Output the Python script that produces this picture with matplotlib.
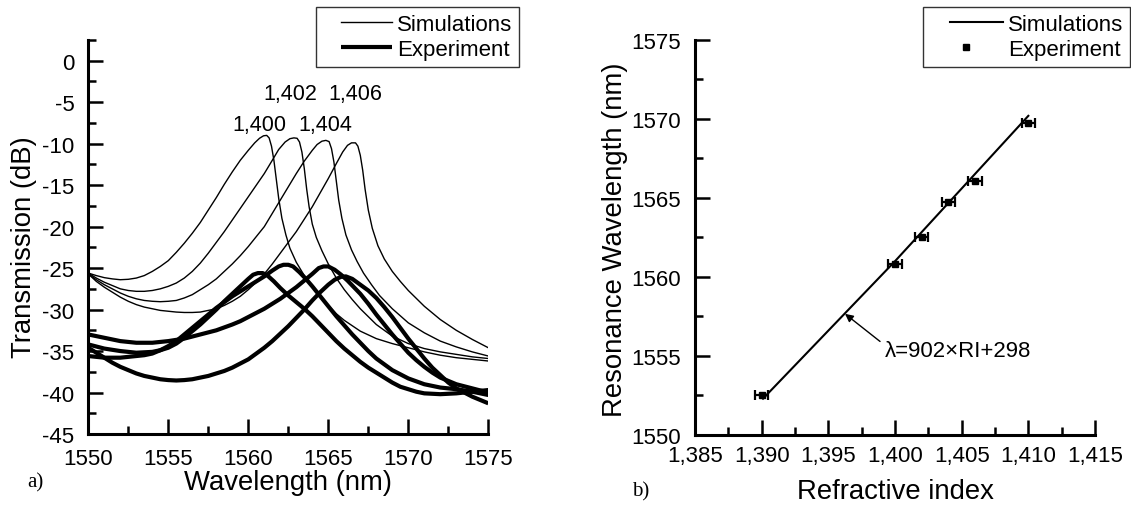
import numpy as np
import matplotlib
matplotlib.use("Agg")
import matplotlib.pyplot as plt
from matplotlib.ticker import MultipleLocator, FixedLocator, FixedFormatter
from matplotlib.legend_handler import HandlerLine2D
from matplotlib.lines import Line2D

plt.rcParams['font.family'] = ['Liberation Sans', 'DejaVu Sans']
plt.rcParams['axes.unicode_minus'] = False

# ---------------- data: panel a) ----------------
sim_1400_wl = [1550, 1550.5, 1551, 1551.5, 1552, 1552.5, 1553, 1553.5, 1554, 1554.5, 1555, 1555.5,
               1556, 1556.5, 1557, 1557.5, 1558, 1558.5, 1559, 1559.5, 1560, 1560.4, 1560.7, 1560.95,
               1561.15, 1561.3, 1561.45, 1561.6, 1561.75, 1561.9, 1562.1, 1562.35, 1562.6, 1563.0,
               1563.5, 1564, 1564.5, 1565, 1565.5, 1566, 1567, 1568, 1569, 1570, 1571, 1572, 1573,
               1574, 1575]
sim_1400_db = [-25.6, -25.9, -26.15, -26.3, -26.4, -26.35, -26.2, -25.9, -25.4, -24.8, -24.1, -23.1,
               -22.0, -20.8, -19.5, -18.0, -16.5, -14.9, -13.4, -12.0, -10.8, -9.9, -9.35, -9.05,
               -9.0, -9.3, -10.3, -12.0, -14.3, -16.6, -19.0, -21.0, -22.6, -24.3,
               -25.9, -27.2, -28.4, -29.5, -30.5, -31.3, -32.6, -33.5, -34.1, -34.6, -35.1, -35.5, -35.8,
               -36.0, -36.2]

sim_1402_wl = [1550, 1550.5, 1551, 1551.5, 1552, 1552.5, 1553, 1553.5, 1554, 1554.5, 1555, 1555.5,
               1556, 1556.5, 1557, 1557.5, 1558, 1558.5, 1559, 1559.5, 1560, 1560.5, 1561, 1561.5,
               1561.9, 1562.3, 1562.6, 1562.85, 1563.05, 1563.2, 1563.35, 1563.5, 1563.65, 1563.8,
               1564.0, 1564.25, 1564.6, 1565, 1565.5, 1566, 1566.5, 1567, 1568, 1569, 1570, 1571,
               1572, 1573, 1574, 1575]
sim_1402_db = [-25.6, -26.2, -26.7, -27.1, -27.5, -27.7, -27.8, -27.8, -27.7, -27.5, -27.2, -26.8,
               -26.2, -25.4, -24.4, -23.2, -21.9, -20.6, -19.2, -17.8, -16.4, -15.0, -13.6, -12.0,
               -10.7, -9.8, -9.4, -9.3, -9.35, -9.8, -11.0, -13.0, -15.5, -17.6,
               -19.7, -21.3, -22.9, -24.5, -26.2, -27.6, -28.8, -29.9, -31.8, -33.2, -34.1, -34.7,
               -35.1, -35.4, -35.7, -35.9]

sim_1404_wl = [1550, 1550.5, 1551, 1551.5, 1552, 1552.5, 1553, 1553.5, 1554, 1554.5, 1555, 1555.5,
               1556, 1556.5, 1557, 1557.5, 1558, 1558.5, 1559, 1559.5, 1560, 1560.5, 1561, 1561.5,
               1562, 1562.5, 1563, 1563.5, 1564, 1564.3, 1564.6, 1564.85, 1565.05, 1565.2, 1565.35,
               1565.5, 1565.65, 1565.85, 1566.1, 1566.45, 1566.8, 1567.2, 1567.7, 1568.2, 1569, 1570,
               1571, 1572, 1573, 1574, 1575]
sim_1404_db = [-25.7, -26.4, -27.0, -27.5, -28.0, -28.4, -28.7, -28.9, -29.0, -29.05, -29.0, -28.9,
               -28.6, -28.2, -27.6, -27.0, -26.3, -25.4, -24.5, -23.5, -22.4, -21.2, -20.0, -18.4,
               -16.8, -15.2, -13.6, -12.1, -10.8, -10.1, -9.7, -9.6, -9.75, -10.6, -12.2,
               -14.5, -16.8, -19.0, -21.0, -22.8, -24.2, -25.6, -27.0, -28.3, -29.9, -31.6,
               -32.8, -33.8, -34.5, -35.1, -35.6]

sim_1406_wl = [1550, 1550.5, 1551, 1551.5, 1552, 1552.5, 1553, 1553.5, 1554, 1554.5, 1555, 1555.5,
               1556, 1556.5, 1557, 1557.5, 1558, 1558.5, 1559, 1559.5, 1560, 1560.5, 1561, 1561.5,
               1562, 1562.5, 1563, 1563.5, 1564, 1564.5, 1565, 1565.5, 1565.9, 1566.2, 1566.45,
               1566.7, 1566.85, 1567.0, 1567.15, 1567.3, 1567.5, 1567.75, 1568.1, 1568.5, 1569,
               1569.5, 1570, 1571, 1572, 1573, 1574, 1575]
sim_1406_db = [-25.7, -26.6, -27.3, -27.9, -28.5, -29.0, -29.4, -29.7, -29.9, -30.1, -30.2, -30.3,
               -30.35, -30.35, -30.3, -30.1, -29.9, -29.5, -29.0, -28.4, -27.6, -26.7, -25.7, -24.5,
               -23.2, -21.9, -20.6, -19.1, -17.6, -15.9, -14.2, -12.4, -11.0, -10.2, -9.9,
               -9.9, -10.3, -11.4, -13.2, -15.5, -18.0, -20.2, -22.3, -23.9, -25.4,
               -26.6, -27.7, -29.6, -31.2, -32.5, -33.6, -34.6]

exp_1400_wl = [1550, 1551, 1552, 1553, 1554, 1554.5, 1555, 1555.5, 1556, 1556.5, 1557, 1557.5, 1558,
               1558.5, 1559, 1559.5, 1560, 1560.3, 1560.6, 1560.9, 1561.2, 1561.6, 1562, 1562.5, 1563,
               1563.5, 1564, 1564.5, 1565, 1565.5, 1566, 1566.5, 1567, 1567.5, 1568, 1568.5, 1569,
               1569.5, 1570, 1570.5, 1571, 1572, 1573, 1574, 1575]
exp_1400_db = [-34.2, -34.7, -35.0, -35.2, -35.1, -34.9, -34.6, -34.1, -33.4, -32.6, -31.8, -30.9, -30.0,
               -29.0, -28.1, -27.2, -26.3, -25.8, -25.6, -25.6, -25.9, -26.6, -27.4, -28.3, -29.1,
               -29.9, -30.8, -31.8, -32.8, -33.8, -34.7, -35.5, -36.3, -37.0, -37.6, -38.2, -38.8,
               -39.3, -39.6, -39.9, -40.1, -40.2, -40.1, -39.9, -39.7]

exp_1402_wl = [1550, 1551, 1552, 1553, 1553.5, 1554, 1554.5, 1555, 1555.5, 1556, 1556.5, 1557, 1557.5,
               1558, 1558.5, 1559, 1559.5, 1560, 1560.5, 1561, 1561.5, 1561.9, 1562.2, 1562.5, 1562.8,
               1563.2, 1563.6, 1564, 1564.5, 1565, 1565.5, 1566, 1566.5, 1567, 1567.5, 1568, 1568.5,
               1569, 1569.5, 1570, 1571, 1572, 1573, 1574, 1575]
exp_1402_db = [-35.6, -35.8, -35.8, -35.6, -35.5, -35.3, -34.9, -34.4, -33.8, -33.0, -32.2, -31.4, -30.6,
               -29.8, -29.1, -28.4, -27.8, -27.2, -26.6, -26.0, -25.3, -24.8, -24.6, -24.6, -24.8,
               -25.5, -26.3, -27.2, -28.4, -29.6, -30.8, -31.9, -33.0, -34.0, -35.0, -35.9, -36.6,
               -37.3, -37.8, -38.3, -39.0, -39.4, -39.6, -39.9, -40.3]

exp_1404_wl = [1550, 1551, 1552, 1553, 1554, 1555, 1556, 1557, 1558, 1559, 1559.5, 1560, 1560.5, 1561,
               1561.5, 1562, 1562.5, 1563, 1563.5, 1564, 1564.4, 1564.7, 1565.0, 1565.4, 1565.8,
               1566.2, 1566.6, 1567, 1567.5, 1568, 1568.5, 1569, 1569.5, 1570, 1570.5, 1571, 1571.5,
               1572, 1572.5, 1573, 1574, 1575]
exp_1404_db = [-33.0, -33.4, -33.8, -34.0, -34.0, -33.8, -33.5, -33.0, -32.5, -31.8, -31.4, -30.9, -30.4, -29.9,
               -29.3, -28.7, -28.0, -27.3, -26.5, -25.7, -25.0, -24.8, -24.8, -25.2, -25.8,
               -26.5, -27.3, -28.1, -29.3, -30.6, -31.8, -33.0, -34.1, -35.2, -36.1, -36.9, -37.6,
               -38.2, -38.6, -39.0, -39.5, -40.0]

exp_1406_wl = [1550, 1550.5, 1551, 1551.5, 1552, 1552.5, 1553, 1553.5, 1554, 1554.5, 1555, 1555.5, 1556,
               1556.5, 1557, 1557.5, 1558, 1558.5, 1559, 1559.5, 1560, 1560.5, 1561, 1561.5, 1562,
               1562.5, 1563, 1563.5, 1564, 1564.5, 1565, 1565.4, 1565.8, 1566.1, 1566.5, 1567, 1567.5,
               1568, 1568.5, 1569, 1569.5, 1570, 1570.5, 1571, 1571.5, 1572, 1572.5, 1573, 1573.5,
               1574, 1574.5, 1575]
exp_1406_db = [-34.6, -35.2, -35.8, -36.4, -36.9, -37.3, -37.7, -38.0, -38.2, -38.4, -38.5, -38.55, -38.5,
               -38.4, -38.2, -38.0, -37.7, -37.4, -37.0, -36.5, -36.0, -35.3, -34.6, -33.8, -32.9,
               -32.0, -31.0, -30.0, -28.9, -27.9, -27.0, -26.4, -26.05, -26.0, -26.3, -27.0, -27.7,
               -28.6, -29.7, -30.9, -32.2, -33.5, -34.7, -35.9, -37.0, -37.9, -38.8, -39.5, -40.0,
               -40.5, -40.9, -41.3]

peak_labels = ['1,400', '1,402', '1,404', '1,406']

left_xticks = [1550, 1555, 1560, 1565, 1570, 1575]
left_yticks = [-45, -40, -35, -30, -25, -20, -15, -10, -5, 0]
left_yticklabels = ['-45', '-40', '-35', '-30', '-25', '-20', '-15', '-10', '-5', '0']

# ---------------- data: panel b) ----------------
sim_ri = [1.3901, 1.400, 1.4100]
sim_res_wl = [1552.3, 1561.0, 1570.2]

exp_ri = [1.390, 1.400, 1.402, 1.404, 1.406, 1.410]
exp_res_wl = [1552.5, 1560.85, 1562.5, 1564.75, 1566.05, 1569.75]
exp_ri_err = [0.0005, 0.0005, 0.0005, 0.0005, 0.0005, 0.0005]

right_xticks = [1.385, 1.390, 1.395, 1.400, 1.405, 1.410, 1.415]
right_xticklabels = ['1,385', '1,390', '1,395', '1,400', '1,405', '1,410', '1,415']
right_yticks = [1550, 1555, 1560, 1565, 1570, 1575]

# ---------------- figure ----------------
W, H = 1131, 506
fig = plt.figure(figsize=(W / 100, H / 100), dpi=100)
axL = fig.add_axes([88.3 / W, (H - 435) / H, 400 / W, 394 / H])
axR = fig.add_axes([695 / W, (H - 436) / H, 400 / W, 395 / H])


class RightLine(HandlerLine2D):
    """Legend line drawn only over the right part of the handle area."""
    def __init__(self, frac=0.74, **kw):
        super().__init__(**kw)
        self.frac = frac

    def get_xdata(self, legend, xdescent, ydescent, width, height, fontsize):
        xdata, xm = super().get_xdata(legend, xdescent, ydescent, width, height, fontsize)
        x0 = -xdescent + width * (1 - self.frac)
        return np.array([x0, -xdescent + width]), xm


def style_axes(ax):
    for s in ['top', 'right']:
        ax.spines[s].set_visible(False)
    for s in ['left', 'bottom']:
        ax.spines[s].set_linewidth(2.2)
    ax.tick_params(which='major', direction='in', length=10.5, width=1.8, labelsize=16)
    ax.tick_params(which='minor', direction='in', length=6, width=1.8)


# ---- panel a ----
sims = [(sim_1400_wl, sim_1400_db), (sim_1402_wl, sim_1402_db),
        (sim_1404_wl, sim_1404_db), (sim_1406_wl, sim_1406_db)]
exps = [(exp_1400_wl, exp_1400_db), (exp_1402_wl, exp_1402_db),
        (exp_1404_wl, exp_1404_db), (exp_1406_wl, exp_1406_db)]
sim_lines = [axL.plot(x, y, color='black', lw=1.0, solid_joinstyle='round')[0] for x, y in sims]
exp_lines = [axL.plot(x, y, color='black', lw=3.0, solid_joinstyle='round', solid_capstyle='butt')[0]
             for x, y in exps]

axL.set_xlim(1550, 1575)
axL.set_ylim(-45, 2.5)
style_axes(axL)
axL.xaxis.set_major_locator(FixedLocator(left_xticks))
axL.xaxis.set_minor_locator(MultipleLocator(2.5))
axL.yaxis.set_major_locator(FixedLocator(left_yticks))
axL.yaxis.set_major_formatter(FixedFormatter(left_yticklabels))
axL.yaxis.set_minor_locator(MultipleLocator(2.5))
axL.tick_params(axis='y', pad=10)
axL.tick_params(axis='x', pad=10)

axL.set_xlabel('Wavelength (nm)', fontsize=19.8, va='center')
axL.xaxis.set_label_coords(0.5, -0.122)
axL.set_ylabel('Transmission (dB)', fontsize=19.8, va='center')
axL.yaxis.set_label_coords(-0.161, 0.477)

axL.text(1558.98, -7.7, peak_labels[0], fontsize=15.5, ha='left', va='center')
axL.text(1560.94, -3.96, peak_labels[1], fontsize=15.5, ha='left', va='center')
axL.text(1563.10, -7.7, peak_labels[2], fontsize=15.5, ha='left', va='center')
axL.text(1565.00, -3.96, peak_labels[3], fontsize=15.5, ha='left', va='center')

legL = axL.legend([sim_lines[0], exp_lines[0]], ['Simulations', 'Experiment'],
                  loc='upper right', bbox_to_anchor=(519 / W, 1 - 8 / H),
                  bbox_transform=fig.transFigure, fontsize=16, frameon=True,
                  fancybox=False, framealpha=1, edgecolor='#333333',
                  handlelength=3.1, handletextpad=0.25, borderpad=0.3,
                  labelspacing=0.2, borderaxespad=0,
                  handler_map={Line2D: RightLine(0.74)})
legL.get_frame().set_linewidth(1.0)

fig.text(27 / W, 1 - 483 / H, 'a)', fontsize=15, family='Liberation Serif', ha='left', va='center')

# ---- panel b ----
line_sim, = axR.plot(sim_ri, sim_res_wl, color='black', lw=1.5)
axR.errorbar(exp_ri, exp_res_wl, xerr=exp_ri_err, fmt='none', ecolor='black',
             elinewidth=1.6, capsize=3.5, capthick=1.6)
pts, = axR.plot(exp_ri, exp_res_wl, 's', color='black', ms=4, linestyle='none')

axR.set_xlim(1.385, 1.415)
axR.set_ylim(1550, 1575)
style_axes(axR)
axR.xaxis.set_major_locator(FixedLocator(right_xticks))
axR.xaxis.set_major_formatter(FixedFormatter(right_xticklabels))
axR.xaxis.set_minor_locator(MultipleLocator(0.0025))
axR.yaxis.set_major_locator(FixedLocator(right_yticks))
axR.yaxis.set_minor_locator(MultipleLocator(2.5))
axR.tick_params(axis='y', pad=10)
axR.tick_params(axis='x', pad=7)

axR.set_xlabel('Refractive index', fontsize=19.8, va='center')
axR.xaxis.set_label_coords(0.5, -0.143)
axR.set_ylabel('Resonance Wavelength (nm)', fontsize=19.8, va='center')
axR.yaxis.set_label_coords(-0.199, 0.496)

axR.annotate('λ=902×RI+298', xy=(1.39625, 1557.67), xytext=(1.39925, 1555.34),
             fontsize=16, ha='left', va='center',
             arrowprops=dict(arrowstyle='-|>', color='black', lw=1.0, mutation_scale=12,
                             shrinkA=2, shrinkB=0, relpos=(0.0, 0.75)))

legR = axR.legend([line_sim, pts], ['Simulations', 'Experiment'],
                  loc='upper right', bbox_to_anchor=(1130 / W, 1 - 8 / H),
                  bbox_transform=fig.transFigure, fontsize=16, frameon=True,
                  fancybox=False, framealpha=1, edgecolor='#333333',
                  handlelength=3.3, handletextpad=0.25, borderpad=0.3,
                  labelspacing=0.2, borderaxespad=0, numpoints=1,
                  handler_map={line_sim: RightLine(0.72)})
legR.get_frame().set_linewidth(1.0)

fig.text(632 / W, 1 - 492 / H, 'b)', fontsize=15, family='Liberation Serif', ha='left', va='center')

fig.savefig('out.png', dpi=100)
